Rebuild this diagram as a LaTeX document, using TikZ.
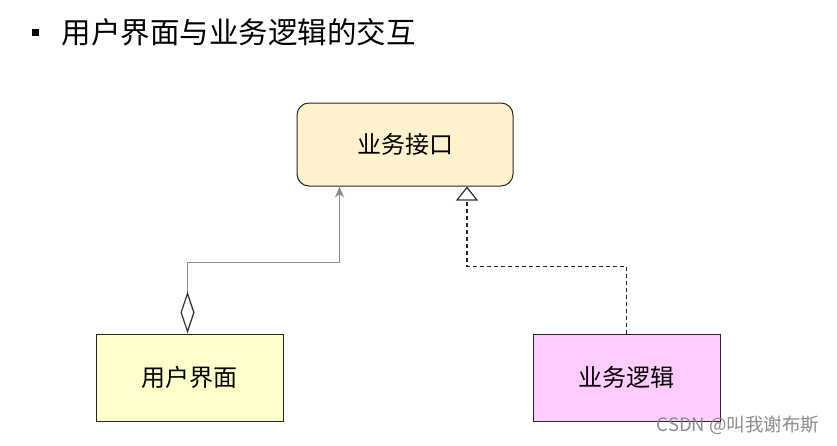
\documentclass[tikz,border=0pt]{standalone}
\usepackage{fontspec}
\setmainfont{Noto Sans CJK SC}
\usetikzlibrary{arrows.meta,positioning}

\definecolor{ifacefill}{HTML}{FFF2CC}
\definecolor{uifill}{HTML}{FFFFCC}
\definecolor{logicfill}{HTML}{FFCCFF}
\definecolor{linkgray}{HTML}{8C8C8C}

\tikzset{
  classbox/.style={draw=black!85,line width=1pt,minimum width=187pt,minimum height=87pt,
                   inner sep=0pt,font=\fontsize{24}{28}\selectfont},
  uses/.style={draw=linkgray,line width=1.2pt,
               {Diamond[open,length=42pt,width=14pt,color=black!80]}-{Stealth[length=11pt,width=9pt]}},
  realizes/.style={draw=black!85,line width=1.2pt,dash pattern=on 4pt off 3pt,
               -{Triangle[open,length=14pt,width=22pt,color=black!80]}}
}

\begin{document}
\begin{tikzpicture}[x=1pt,y=-1pt]
\useasboundingbox (0,0) rectangle (837,445);

% heading
\fill[black] (32,29) rectangle (39,36);
\node[anchor=west,font=\fontsize{29.5}{33}\selectfont] (title) at (58,32) {用户界面与业务逻辑的交互};

% classes
\node[classbox,rounded corners=12pt,fill=ifacefill,minimum width=216pt,minimum height=83pt] (iface) at (405,144.5) {业务接口};
\node[classbox,fill=uifill] (ui) at (189.5,377.5) {用户界面};
\node[classbox,fill=logicfill] (logic) at (626.5,377.5) {业务逻辑};

% links
\draw[uses] ([xshift=-2pt]ui.north) -- ++(0,-71) -| ([xshift=43pt]iface.south west);
\draw[realizes] (logic.north) -- ++(0,-67) -| ([xshift=62pt]iface.south);

% watermark
\node[anchor=south east,text=black!45,font=\fontsize{18.5}{20}\selectfont] (mark) at (823,438) {CSDN @叫我谢布斯};
\end{tikzpicture}
\end{document}
